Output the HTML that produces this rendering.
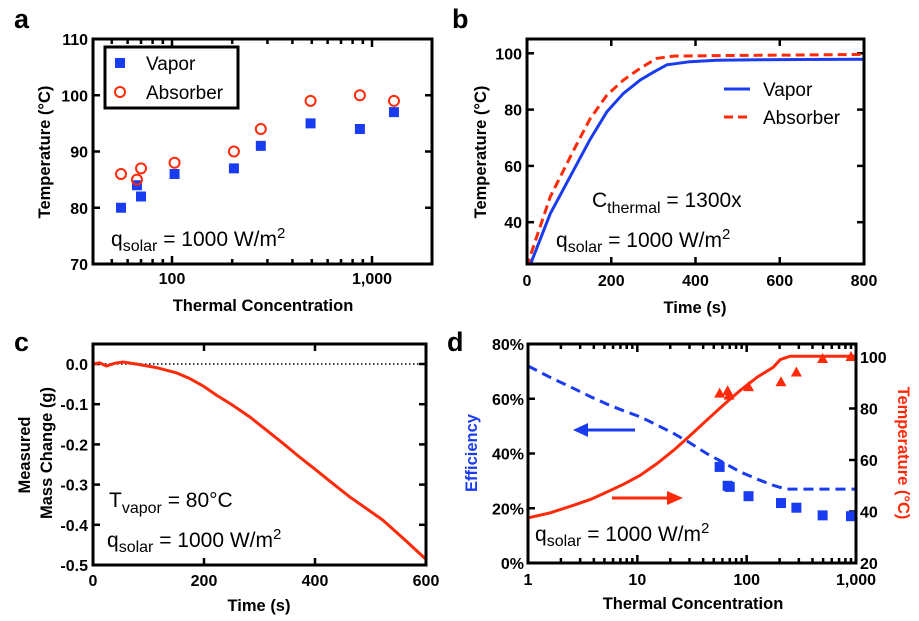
<!DOCTYPE html>
<html><head><meta charset="utf-8">
<style>
html,body{margin:0;padding:0;background:#fff;}
svg{display:block;font-family:"Liberation Sans",Arial,sans-serif;}
.tk{font-weight:bold;font-size:16px;}
.ttl{font-weight:bold;font-size:16.5px;}
.pl{font-weight:bold;font-size:27px;}
.ann{font-size:21px;}
</style></head>
<body>
<svg id="fig" width="919" height="621" viewBox="0 0 919 621">
  <text class="pl" x="14" y="28">a</text>
  <text class="pl" x="452" y="28">b</text>
  <text class="pl" x="14" y="351">c</text>
  <text class="pl" x="447" y="351">d</text>

  <text class="ttl" x="263" y="311" text-anchor="middle">Thermal Concentration</text>
  <text class="ttl" transform="translate(50,152) rotate(-90)" text-anchor="middle">Temperature (°C)</text>
  <text class="ttl" x="695" y="313" text-anchor="middle">Time (s)</text>
  <text class="ttl" transform="translate(486,152) rotate(-90)" text-anchor="middle">Temperature (°C)</text>
  <text class="ttl" x="259" y="611" text-anchor="middle">Time (s)</text>
  <text class="ttl" transform="translate(30,455) rotate(-90)" text-anchor="middle">Measured</text>
  <text class="ttl" transform="translate(52,453) rotate(-90)" text-anchor="middle">Mass Change (g)</text>
  <text class="ttl" x="693" y="609" text-anchor="middle">Thermal Concentration</text>
  <text class="ttl" fill="#1a3cf0" transform="translate(477,453) rotate(-90)" text-anchor="middle">Efficiency</text>
  <text class="ttl" fill="#ff2a0a" transform="translate(898,453) rotate(90)" text-anchor="middle">Temperature (°C)</text>

  <text class="ann" x="111" y="246">q<tspan dy="5" font-size="16">solar</tspan><tspan dy="-5"> = 1000 W/m</tspan><tspan dy="-8" font-size="15">2</tspan></text>
  <text class="ann" x="592" y="207">C<tspan dy="6" font-size="16">thermal</tspan><tspan dy="-6"> = 1300x</tspan></text>
  <text class="ann" x="556" y="247">q<tspan dy="5" font-size="16">solar</tspan><tspan dy="-5"> = 1000 W/m</tspan><tspan dy="-8" font-size="15">2</tspan></text>
  <text class="ann" x="109" y="507">T<tspan dy="6" font-size="16">vapor</tspan><tspan dy="-6"> = 80°C</tspan></text>
  <text class="ann" x="107" y="547">q<tspan dy="5" font-size="16">solar</tspan><tspan dy="-5"> = 1000 W/m</tspan><tspan dy="-8" font-size="15">2</tspan></text>
  <text class="ann" x="535" y="541">q<tspan dy="5" font-size="16">solar</tspan><tspan dy="-5"> = 1000 W/m</tspan><tspan dy="-8" font-size="15">2</tspan></text>

  <g>
    <rect x="105" y="47" width="133" height="61" fill="#fff" stroke="#000" stroke-width="3"/>
    <rect x="115" y="58" width="10" height="10" fill="#1a3cf0"/>
    <text x="146" y="70" font-size="19">Vapor</text>
    <circle cx="120" cy="92" r="5" fill="none" stroke="#ff2a0a" stroke-width="2"/>
    <text x="146" y="99" font-size="19">Absorber</text>
  </g>
  <g>
    <line x1="724" y1="89" x2="750" y2="89" stroke="#1a3cf0" stroke-width="3"/>
    <text x="763" y="96" font-size="19">Vapor</text>
    <line x1="724" y1="117" x2="751" y2="117" stroke="#ff2a0a" stroke-width="3" stroke-dasharray="9,5"/>
    <text x="763" y="124" font-size="19">Absorber</text>
  </g>
</svg>
<script>
const aConc = [55.6, 66.8, 70, 103, 204, 278, 493, 870, 1288];
const aVapor = [80, 84, 82, 86, 87, 91, 95, 94, 97];
const aAbsorber = [86, 85, 87, 88, 90, 94, 99, 100, 99];
const aYTicks = [70, 80, 90, 100, 110];
const aXTicks = [100, 1000];
const aXTickLabels = ["100", "1,000"];
const bTime = [0, 8, 55, 111, 150, 190, 229, 269, 300, 332, 387, 450, 550, 650, 800];
const bVapor = [22, 25, 43, 58.6, 69.5, 79.3, 85.8, 90.5, 93.3, 95.9, 97, 97.5, 97.7, 97.8, 97.9];
const bAbsTime = [0, 2, 55, 111, 150, 190, 229, 269, 308, 348, 450, 550, 650, 800];
const bAbsorber = [24, 25.4, 49, 65.7, 76.8, 85.2, 90.5, 94.7, 98.2, 99, 99.2, 99.3, 99.4, 99.6];
const bYTicks = [40, 60, 80, 100];
const bXTicks = [0, 200, 400, 600, 800];
const cTime = [0, 12, 24, 40, 54, 78, 114, 150, 174, 200, 222, 250, 282, 310, 342, 370, 402, 430, 462, 490, 522, 560, 600];
const cMass = [0, 0.003, -0.005, 0.002, 0.005, 0, -0.009, -0.022, -0.036, -0.056, -0.077, -0.101, -0.131, -0.162, -0.197, -0.229, -0.264, -0.295, -0.330, -0.357, -0.388, -0.435, -0.486];
const cYTicks = [0, -0.1, -0.2, -0.3, -0.4, -0.5];
const cYTickLabels = ["0.0", "-0.1", "-0.2", "-0.3", "-0.4", "-0.5"];
const cXTicks = [0, 200, 400, 600];
const dConc = [56.6, 67, 70, 104, 206, 285, 495, 900];
const dEff = [35.1, 28.2, 27.8, 24.4, 21.9, 20.2, 17.4, 17.1];
const dTempConc = [56.6, 67, 69, 104, 206, 285, 495, 900];
const dTemp = [85.8, 86.7, 85, 88.3, 90.2, 94, 99.2, 100];
const dModelEffConc = [1, 1.6, 2.6, 3.8, 5.3, 7.5, 10.6, 15, 21.5, 30, 43, 60, 87, 125, 175, 230, 1000];
const dModelEff = [72, 67.8, 63.8, 60.6, 58, 55.6, 53.4, 50.5, 47.3, 44, 40, 36.9, 33.3, 30.6, 28.4, 27, 27];
const dModelTempConc = [1, 1.6, 2.6, 3.8, 5.3, 7.5, 10.6, 15, 21.5, 30, 43, 60, 87, 125, 175, 203, 250, 1000];
const dModelTemp = [37.5, 39.5, 42.4, 44.8, 47.6, 50.6, 54, 58.5, 63.8, 69.3, 75.4, 81, 87, 92.2, 96, 99, 100.3, 100.3];
const dEffTicks = [0, 20, 40, 60, 80];
const dTempTicks = [20, 40, 60, 80, 100];
const dXTicks = [1, 10, 100, 1000];
const dXTickLabels = ["1", "10", "100", "1,000"];

const NS = "http://www.w3.org/2000/svg";
const svg = document.getElementById('fig');
const BLUE = "#1a3cf0", RED = "#ff2a0a";
function mk(tag, attrs, parent) {
  const el = document.createElementNS(NS, tag);
  for (const k in attrs) el.setAttribute(k, attrs[k]);
  (parent || svg).appendChild(el);
  return el;
}
function tick(x1, y1, x2, y2, w) {
  const el = mk('line', {x1: x1, y1: y1, x2: x2, y2: y2, stroke: '#000', 'stroke-width': w || 2.5});
  
  
}
function label(x, y, txt, anchor, color) {
  const el = mk('text', {x: x, y: y, 'text-anchor': anchor, class: 'tk', fill: color || '#000'});
  el.textContent = txt;
  
  
}
function frame(x, y, w, h, name) {
  const el = mk('rect', {x: x, y: y, width: w, height: h, fill: 'none', stroke: '#000', 'stroke-width': 3});
  
  
}
function pathFrom(xs, ys, fx, fy) {
  return xs.map((v, i) => (i ? 'L' : 'M') + fx(v).toFixed(1) + ',' + fy(ys[i]).toFixed(1)).join(' ');
}
function clip(id, x, y, w, h) {
  const c = mk('clipPath', {id: id});
  mk('rect', {x: x, y: y, width: w, height: h}, c);
}

const aL = 93, aR = 432, aT = 39, aB = 264;
const xa = v => 172 + 200 * (Math.log10(v) - 2);
const ya = v => aB - (v - 70) * (aB - aT) / 40;
aYTicks.forEach(v => {
  tick(aL, ya(v), aL + 7, ya(v)); tick(aR, ya(v), aR - 7, ya(v));
  label(aL - 5, ya(v) + 6, String(v), 'end');
});
[40,50,60,70,80,90,200,300,400,500,600,700,800,900,2000].forEach(v => {
  if (xa(v) > aL + 2 && xa(v) < aR - 2) { tick(xa(v), aB, xa(v), aB - 5); tick(xa(v), aT, xa(v), aT + 5); }
});
aXTicks.forEach((v, i) => {
  tick(xa(v), aB, xa(v), aB - 8); tick(xa(v), aT, xa(v), aT + 8);
  label(xa(v), aB + 20, aXTickLabels[i], 'middle');
});
frame(aL, aT, aR - aL, aB - aT, 'a-plot-frame');
aConc.forEach((c, i) => {
  const s = mk('rect', {x: xa(c) - 5, y: ya(aVapor[i]) - 5, width: 10, height: 10, fill: BLUE});
  
  
  const o = mk('circle', {cx: xa(c), cy: ya(aAbsorber[i]), r: 5, fill: 'none', stroke: RED, 'stroke-width': 2});
  
  
});

const bL = 527, bR = 864, bT = 39, bB = 264;
const xb = t => bL + t * (bR - bL) / 800;
const yb = T => 53.3 + (100 - T) * 2.815;
clip('clipB', bL, bT, bR - bL, bB - bT);
bYTicks.forEach(v => {
  tick(bL, yb(v), bL + 7, yb(v)); tick(bR, yb(v), bR - 7, yb(v));
  label(bL - 5, yb(v) + 6, String(v), 'end');
});
bXTicks.forEach(v => {
  tick(xb(v), bB, xb(v), bB - 7); tick(xb(v), bT, xb(v), bT + 7);
  label(xb(v), bB + 22, String(v), 'middle');
});
const bv = mk('path', {d: pathFrom(bTime, bVapor, xb, yb), fill: 'none', stroke: BLUE, 'stroke-width': 3, 'clip-path': 'url(#clipB)'});


const ba = mk('path', {d: pathFrom(bAbsTime, bAbsorber, xb, yb), fill: 'none', stroke: RED, 'stroke-width': 3, 'stroke-dasharray': '9,5', 'clip-path': 'url(#clipB)'});


frame(bL, bT, bR - bL, bB - bT, 'b-plot-frame');

const cL = 93, cR = 426, cT = 344, cB = 565;
const xc = t => cL + t * (cR - cL) / 600;
const yc = m => 364 - m * 402;
clip('clipC', cL, cT, cR - cL + 2, cB - cT);
cYTicks.forEach((v, i) => {
  tick(cL, yc(v), cL + 7, yc(v)); tick(cR, yc(v), cR - 7, yc(v));
  label(cL - 5, yc(v) + 6, cYTickLabels[i], 'end');
});
cXTicks.forEach(v => {
  tick(xc(v), cB, xc(v), cB - 7); tick(xc(v), cT, xc(v), cT + 7);
  label(xc(v), cB + 21, String(v), 'middle');
});
const zl = mk('line', {x1: cL, y1: yc(0), x2: cR, y2: yc(0), stroke: '#000', 'stroke-width': 1.5, 'stroke-dasharray': '1.5,2.5'});


const cm = mk('path', {d: pathFrom(cTime, cMass, xc, yc), fill: 'none', stroke: RED, 'stroke-width': 3, 'clip-path': 'url(#clipC)'});


frame(cL, cT, cR - cL, cB - cT, 'c-plot-frame');

const dL = 528, dR = 856, dT = 344, dB = 563;
const xd = c => dL + Math.log10(c) * (dR - dL) / 3;
const ye = p => dB - p * (dB - dT) / 80;
const yt = T => dB - (T - 20) * 51.5 / 20;
clip('clipD', dL, dT, dR - dL, dB - dT);
dEffTicks.forEach(v => {
  tick(dL, ye(v), dL + 7, ye(v));
  label(dL - 4, ye(v) + 6, v + '%', 'end');
});
dTempTicks.forEach(v => {
  tick(dR, yt(v), dR - 7, yt(v));
  label(dR + 4, yt(v) + 6, String(v), 'start');
});
[1,10,100].forEach(d => { for (let k = 2; k <= 9; k++) { const v = d * k; tick(xd(v), dB, xd(v), dB - 5); tick(xd(v), dT, xd(v), dT + 5); } });
dXTicks.forEach((v, i) => {
  tick(xd(v), dB, xd(v), dB - 8); tick(xd(v), dT, xd(v), dT + 8);
  label(xd(v), dB + 22, dXTickLabels[i], 'middle');
});
const me = mk('path', {d: pathFrom(dModelEffConc, dModelEff, xd, ye), fill: 'none', stroke: BLUE, 'stroke-width': 3, 'stroke-dasharray': '10,6', 'clip-path': 'url(#clipD)'});


const mt = mk('path', {d: pathFrom(dModelTempConc, dModelTemp, xd, yt), fill: 'none', stroke: RED, 'stroke-width': 3, 'clip-path': 'url(#clipD)'});


dConc.forEach((c, i) => {
  const s = mk('rect', {x: xd(c) - 5, y: ye(dEff[i]) - 5, width: 10, height: 10, fill: BLUE});
  
  
});
dTempConc.forEach((c, i) => {
  const x = xd(c), y = yt(dTemp[i]);
  const t = mk('polygon', {points: `${x},${y - 6} ${x - 5.5},${y + 4} ${x + 5.5},${y + 4}`, fill: RED});
  
  
});
const a1 = mk('line', {x1: 635, y1: 430, x2: 585, y2: 430, stroke: BLUE, 'stroke-width': 3});


const a1h = mk('polygon', {points: '573,430 588,423 588,437', fill: BLUE});


const a2 = mk('line', {x1: 612, y1: 498, x2: 670, y2: 498, stroke: RED, 'stroke-width': 3});


const a2h = mk('polygon', {points: '683,498 667,491 667,505', fill: RED});


frame(dL, dT, dR - dL, dB - dT, 'd-plot-frame');
</script>
</body></html>
